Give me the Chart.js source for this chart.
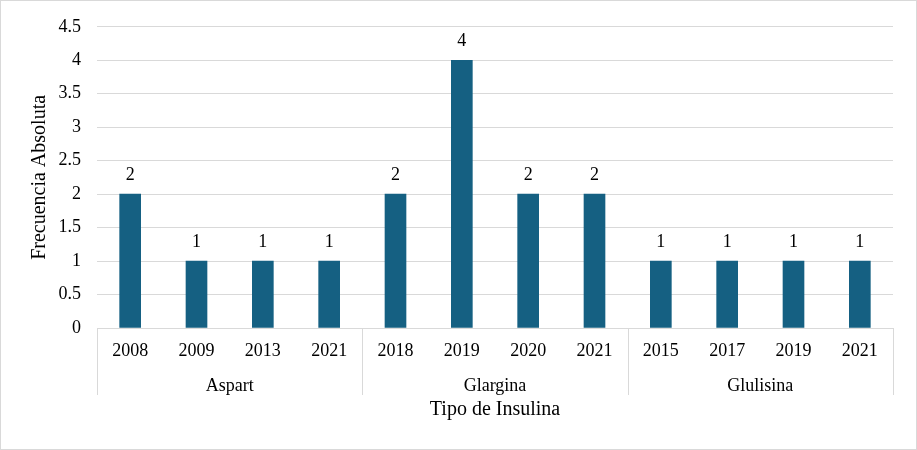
<!DOCTYPE html>
<html>
<head>
<meta charset="utf-8">
<script src="https://cdn.jsdelivr.net/npm/chart.js@4.4.1/dist/chart.umd.min.js"></script>
<style>
  html, body { margin: 0; padding: 0; background: #fff; }
  #wrap { width: 917px; height: 450px; position: relative; }
</style>
</head>
<body>
<div id="wrap"><canvas id="myChart"></canvas></div>
<script>
// data
const years = ["2008", "2009", "2013", "2021", "2018", "2019", "2020", "2021", "2015", "2017", "2019", "2021"];
const groups = ["Aspart", "Glargina", "Glulisina"];
const groupSizes = [4, 4, 4];
const counts = [2, 1, 1, 1, 2, 4, 2, 2, 1, 1, 1, 1];
const yMax = 4.5;
const yStep = 0.5;

const barColor = "#156082";
const lineColor = "#d9d9d9";
const serif = "'Liberation Serif', 'Times New Roman', serif";

const ctx = document.getElementById("myChart");

// frame, value labels, group row under the years
const extras = {
  id: "extras",
  beforeDraw(chart) {
    const c = chart.ctx;
    c.save();
    c.fillStyle = "#fff";
    c.fillRect(0, 0, chart.width, chart.height);
    c.strokeStyle = lineColor;
    c.lineWidth = 1;
    c.strokeRect(0.5, 0.5, chart.width - 1, chart.height - 1);
    c.restore();
  },
  afterDraw(chart) {
    const c = chart.ctx;
    const xs = chart.scales.x;
    const area = chart.chartArea;
    const meta = chart.getDatasetMeta(0);

    c.save();
    c.font = "18px " + serif;
    c.fillStyle = "#000";
    c.textAlign = "center";
    c.textBaseline = "middle";
    meta.data.forEach((bar, i) => {
      c.fillText(String(counts[i]), bar.x, bar.y - 19);
    });

    // separators and group names
    const yTop = area.bottom;
    const yBot = area.bottom + 67;
    c.strokeStyle = lineColor;
    c.lineWidth = 1;
    let start = 0;
    const edges = [xs.left];
    groupSizes.forEach((n, g) => {
      const end = start + n - 1;
      const mid = (xs.getPixelForValue(start) + xs.getPixelForValue(end)) / 2;
      c.fillText(groups[g], mid, area.bottom + 58);
      if (end < years.length - 1) {
        edges.push((xs.getPixelForValue(end) + xs.getPixelForValue(end + 1)) / 2);
      }
      start = end + 1;
    });
    edges.push(xs.right);
    edges.forEach(x => {
      const px = Math.round(x) + 0.5;
      c.beginPath();
      c.moveTo(px, yTop);
      c.lineTo(px, yBot);
      c.stroke();
    });
    c.restore();
  }
};

let x = new Chart(ctx, {
  type: "bar",
  data: {
    labels: years,
    datasets: [
      {
        label: "Frecuencia Absoluta",
        data: counts,
        backgroundColor: barColor,
        barThickness: 21,
      },
    ],
  },
  options: {
    responsive: true,
    maintainAspectRatio: false,
    animation: false,
    layout: {
      padding: { top: 24, right: 24, bottom: 0, left: 0 }
    },
    plugins: {
      legend: { display: false },
      tooltip: { enabled: false },
    },
    scales: {
      x: {
        grid: { display: false, drawTicks: false },
        border: { display: true, color: lineColor, width: 1 },
        ticks: {
          color: "#000",
          font: { family: serif, size: 18 },
          padding: 12,
          maxRotation: 0,
          autoSkip: false,
        },
        title: {
          display: true,
          text: "Tipo de Insulina",
          color: "#000",
          font: { family: serif, size: 20 },
          padding: { top: 0, bottom: 28 },
        },
        afterFit(scale) { scale.height = 122; },
      },
      y: {
        min: 0,
        max: yMax,
        grid: { color: lineColor, drawTicks: false },
        border: { display: false },
        ticks: {
          stepSize: yStep,
          color: "#000",
          font: { family: serif, size: 18 },
          padding: 16,
          // 1 and 4, not 1.0 and 4.0
          callback: (v) => String(v),
        },
        title: {
          display: true,
          text: "Frecuencia Absoluta",
          color: "#000",
          font: { family: serif, size: 20 },
          padding: { top: 28, bottom: 0 },
        },
        afterFit(scale) { scale.width = 97; },
      },
    },
  },
  plugins: [extras],
});
</script>
</body>
</html>
